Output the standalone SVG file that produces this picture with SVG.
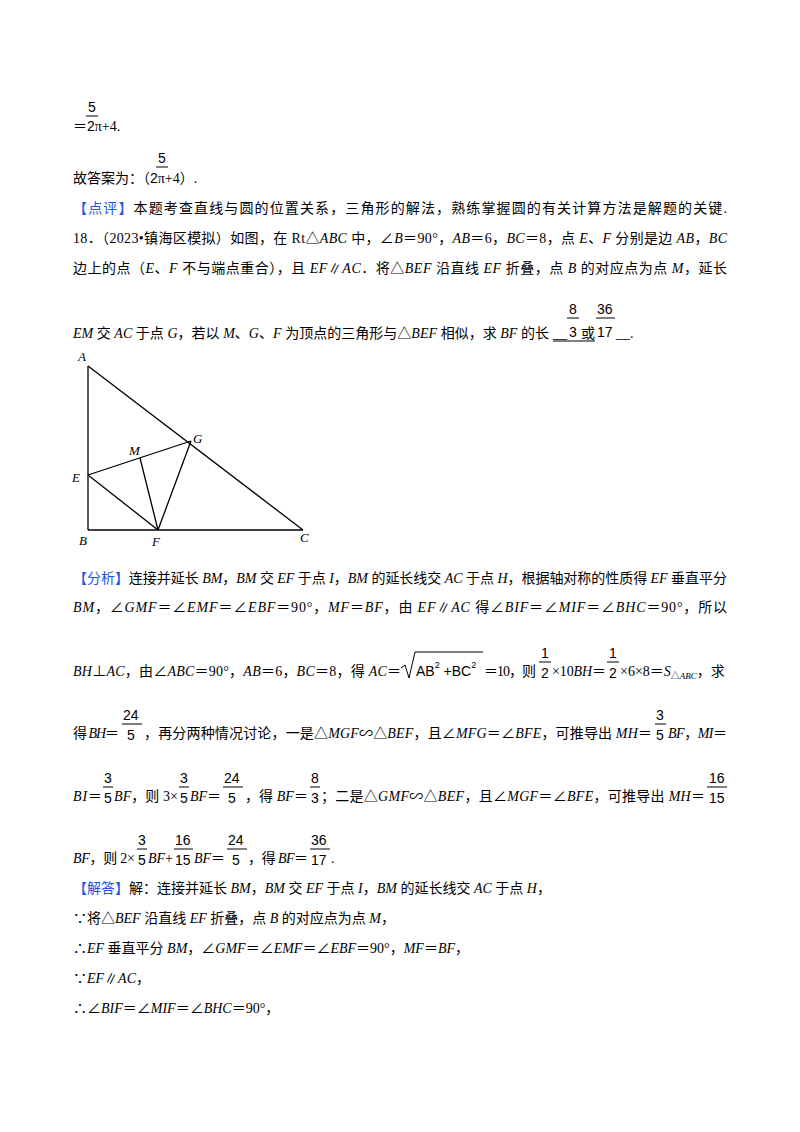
<svg xmlns="http://www.w3.org/2000/svg" width="800" height="1132" viewBox="0 0 800 1132">
<style>
text{font-family:"Liberation Serif","Noto Sans CJK SC",serif;font-size:14px;fill:#000}
.f{font-family:"Liberation Sans","Noto Sans CJK SC",sans-serif;font-size:14px}
.i{font-style:italic}
.b{fill:#2255dd}
.s{font-size:9px}
.fb{stroke:#000;stroke-width:1}
.g line{stroke:#000;stroke-width:1.3}
.lbl{font-style:italic;font-size:13px}
</style>
<rect width="800" height="1132" fill="#fff"/>
<text class="f" x="88" y="112">5</text><line class="fb" x1="86" y1="116" x2="98" y2="116"/>
<text x="73" y="131">＝<tspan class="f">2</tspan>π+4.</text>
<text class="f" x="158" y="163">5</text><line class="fb" x1="156" y1="167" x2="168" y2="167"/>
<text x="73" y="183">故答案为：（<tspan class="f">2</tspan>π+4）.</text>
<text x="73" y="213" textLength="654"><tspan class="b">【点评】</tspan>本题考查直线与圆的位置关系，三角形的解法，熟练掌握圆的有关计算方法是解题的关键.</text>
<text x="73" y="243" textLength="654">18．（2023•镇海区模拟）如图，在 Rt△<tspan class="i">ABC</tspan> 中，∠<tspan class="i">B</tspan>＝90°，<tspan class="i">AB</tspan>＝6，<tspan class="i">BC</tspan>＝8，点 <tspan class="i">E</tspan>、<tspan class="i">F</tspan> 分别是边 <tspan class="i">AB</tspan>，<tspan class="i">BC</tspan></text>
<text x="73" y="273" textLength="654">边上的点（<tspan class="i">E</tspan>、<tspan class="i">F</tspan> 不与端点重合），且 <tspan class="i">EF</tspan>∥<tspan class="i">AC</tspan>．将△<tspan class="i">BEF</tspan> 沿直线 <tspan class="i">EF</tspan> 折叠，点 <tspan class="i">B</tspan> 的对应点为点 <tspan class="i">M</tspan>，延长</text>
<text x="73" y="338" textLength="476"><tspan class="i">EM</tspan> 交 <tspan class="i">AC</tspan> 于点 <tspan class="i">G</tspan>，若以 <tspan class="i">M</tspan>、<tspan class="i">G</tspan>、<tspan class="i">F</tspan> 为顶点的三角形与△<tspan class="i">BEF</tspan> 相似，求 <tspan class="i">BF</tspan> 的长</text>
<text x="553" y="338">__</text>
<text class="f" x="569" y="314">8</text><line class="fb" x1="567" y1="318" x2="579" y2="318"/><text class="f" x="569" y="337">3</text>
<text x="581" y="338">或</text><line class="fb" x1="553" y1="341" x2="595" y2="341"/>
<text class="f" x="597" y="314">36</text><line class="fb" x1="596" y1="318" x2="615" y2="318"/><text class="f" x="597" y="337">17</text>
<text x="616" y="338">__.</text>
<g class="g" id="figure">
<line x1="88" y1="366" x2="88" y2="530"/>
<line x1="88" y1="530" x2="303" y2="530"/>
<line x1="88" y1="366" x2="303" y2="530"/>
<line x1="88" y1="475" x2="158" y2="530"/>
<line x1="88" y1="475" x2="191" y2="441"/>
<line x1="140" y1="458" x2="158" y2="530"/>
<line x1="191" y1="441" x2="158" y2="530"/>
</g>
<g id="labels">
<text class="lbl" x="78" y="361">A</text>
<text class="lbl" x="72" y="482">E</text>
<text class="lbl" x="129" y="455">M</text>
<text class="lbl" x="193" y="443">G</text>
<text class="lbl" x="79" y="545">B</text>
<text class="lbl" x="152" y="546">F</text>
<text class="lbl" x="300" y="542">C</text>
</g>
<text x="73" y="583" textLength="654"><tspan class="b">【分析】</tspan>连接并延长 <tspan class="i">BM</tspan>，<tspan class="i">BM</tspan> 交 <tspan class="i">EF</tspan> 于点 <tspan class="i">I</tspan>，<tspan class="i">BM</tspan> 的延长线交 <tspan class="i">AC</tspan> 于点 <tspan class="i">H</tspan>，根据轴对称的性质得 <tspan class="i">EF</tspan> 垂直平分</text>
<text x="73" y="612" textLength="654"><tspan class="i">BM</tspan>，∠<tspan class="i">GMF</tspan>＝∠<tspan class="i">EMF</tspan>＝∠<tspan class="i">EBF</tspan>＝90°，<tspan class="i">MF</tspan>＝<tspan class="i">BF</tspan>，由 <tspan class="i">EF</tspan>∥<tspan class="i">AC</tspan> 得∠<tspan class="i">BIF</tspan>＝∠<tspan class="i">MIF</tspan>＝∠<tspan class="i">BHC</tspan>＝90°，所以</text>
<text x="73" y="676" textLength="328"><tspan class="i">BH</tspan>⊥<tspan class="i">AC</tspan>，由∠<tspan class="i">ABC</tspan>＝90°，<tspan class="i">AB</tspan>＝6，<tspan class="i">BC</tspan>＝8，得 <tspan class="i">AC</tspan>＝</text>
<path d="M401 668 L405 665 L409 678 L415 652 L483 652" fill="none" stroke="#000" stroke-width="1"/>
<text class="f" x="416" y="676">AB<tspan class="s" dy="-8">2</tspan><tspan dy="8"> +BC</tspan><tspan class="s" dy="-8">2</tspan></text>
<text x="484" y="676" textLength="52">＝10，则</text>
<text class="f" x="541" y="658">1</text><line class="fb" x1="539" y1="662" x2="551" y2="662"/><text class="f" x="541" y="678">2</text>
<text x="552" y="676" textLength="54">×10<tspan class="i">BH</tspan>＝</text>
<text class="f" x="609" y="658">1</text><line class="fb" x1="607" y1="662" x2="619" y2="662"/><text class="f" x="609" y="678">2</text>
<text x="620" y="676">×6×8＝<tspan class="i">S</tspan><tspan class="s" dy="3">△<tspan class="i">ABC</tspan></tspan><tspan dy="-3">，求</tspan></text>
<text x="73" y="738" textLength="46">得 <tspan class="i">BH</tspan>＝</text>
<text class="f" x="123" y="720">24</text><line class="fb" x1="122" y1="724" x2="142" y2="724"/><text class="f" x="127" y="740">5</text>
<text x="144" y="738" textLength="508">，再分两种情况讨论，一是△<tspan class="i">MGF</tspan>∽△<tspan class="i">BEF</tspan>，且∠<tspan class="i">MFG</tspan>＝∠<tspan class="i">BFE</tspan>，可推导出 <tspan class="i">MH</tspan>＝</text>
<text class="f" x="656" y="720">3</text><line class="fb" x1="655" y1="724" x2="666" y2="724"/><text class="f" x="656" y="740">5</text>
<text x="668" y="738" textLength="59"><tspan class="i">BF</tspan>，<tspan class="i">MI</tspan>＝</text>
<text x="73" y="801" textLength="29"><tspan class="i">BI</tspan>＝</text>
<text class="f" x="104" y="783">3</text><line class="fb" x1="103" y1="787" x2="113" y2="787"/><text class="f" x="104" y="803">5</text>
<text x="114" y="801" textLength="64"><tspan class="i">BF</tspan>，则 3×</text>
<text class="f" x="180" y="783">3</text><line class="fb" x1="179" y1="787" x2="189" y2="787"/><text class="f" x="180" y="803">5</text>
<text x="190" y="801"><tspan class="i">BF</tspan>＝</text>
<text class="f" x="224" y="783">24</text><line class="fb" x1="223" y1="787" x2="243" y2="787"/><text class="f" x="228" y="803">5</text>
<text x="245" y="801" textLength="63">，得 <tspan class="i">BF</tspan>＝</text>
<text class="f" x="311" y="783">8</text><line class="fb" x1="310" y1="787" x2="320" y2="787"/><text class="f" x="311" y="803">3</text>
<text x="321" y="801" textLength="384">；二是△<tspan class="i">GMF</tspan>∽△<tspan class="i">BEF</tspan>，且∠<tspan class="i">MGF</tspan>＝∠<tspan class="i">BFE</tspan>，可推导出 <tspan class="i">MH</tspan>＝</text>
<text class="f" x="709" y="783">16</text><line class="fb" x1="707" y1="787" x2="727" y2="787"/><text class="f" x="709" y="803">15</text>
<text x="73" y="863" textLength="62"><tspan class="i">BF</tspan>，则 2×</text>
<text class="f" x="138" y="845">3</text><line class="fb" x1="137" y1="849" x2="147" y2="849"/><text class="f" x="138" y="865">5</text>
<text x="148" y="863"><tspan class="i">BF</tspan>+</text>
<text class="f" x="175" y="845">16</text><line class="fb" x1="174" y1="849" x2="193" y2="849"/><text class="f" x="175" y="865">15</text>
<text x="194" y="863"><tspan class="i">BF</tspan>＝</text>
<text class="f" x="228" y="845">24</text><line class="fb" x1="227" y1="849" x2="247" y2="849"/><text class="f" x="232" y="865">5</text>
<text x="248" y="863" textLength="60">，得 <tspan class="i">BF</tspan>＝</text>
<text class="f" x="311" y="845">36</text><line class="fb" x1="310" y1="849" x2="330" y2="849"/><text class="f" x="311" y="865">17</text>
<text x="331" y="863">.</text>
<text x="73" y="893"><tspan class="b">【解答】</tspan>解：连接并延长 <tspan class="i">BM</tspan>，<tspan class="i">BM</tspan> 交 <tspan class="i">EF</tspan> 于点 <tspan class="i">I</tspan>，<tspan class="i">BM</tspan> 的延长线交 <tspan class="i">AC</tspan> 于点 <tspan class="i">H</tspan>，</text>
<text x="73" y="923">∵将△<tspan class="i">BEF</tspan> 沿直线 <tspan class="i">EF</tspan> 折叠，点 <tspan class="i">B</tspan> 的对应点为点 <tspan class="i">M</tspan>，</text>
<text x="73" y="953">∴<tspan class="i">EF</tspan> 垂直平分 <tspan class="i">BM</tspan>，∠<tspan class="i">GMF</tspan>＝∠<tspan class="i">EMF</tspan>＝∠<tspan class="i">EBF</tspan>＝90°，<tspan class="i">MF</tspan>＝<tspan class="i">BF</tspan>，</text>
<text x="73" y="983">∵<tspan class="i">EF</tspan>∥<tspan class="i">AC</tspan>，</text>
<text x="73" y="1013">∴∠<tspan class="i">BIF</tspan>＝∠<tspan class="i">MIF</tspan>＝∠<tspan class="i">BHC</tspan>＝90°，</text>
</svg>
